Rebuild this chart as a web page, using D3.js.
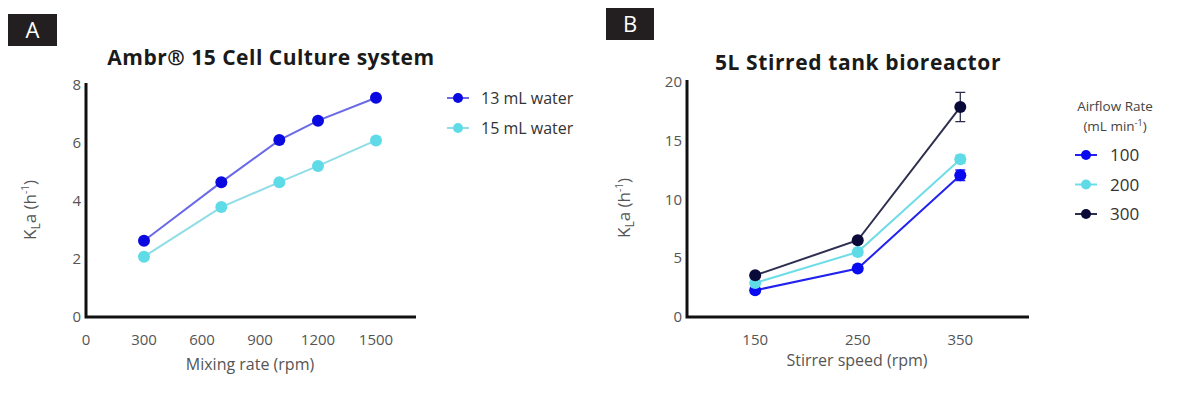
<!DOCTYPE html>
<html><head><meta charset="utf-8">
<script src="https://cdn.jsdelivr.net/npm/d3@7"></script>
<style>
body{margin:0;background:#fff;}
svg{display:block;font-family:"Open Sans", Lato, sans-serif;}
</style></head>
<body><svg id="c" width="1177" height="396"></svg>
<script>
// Panel A data
const mixingRate = [300, 700, 1000, 1200, 1500];
const water13 = [2.63, 4.65, 6.1, 6.77, 7.56];
const water15 = [2.08, 3.79, 4.65, 5.21, 6.09];
const aXTicks = [0, 300, 600, 900, 1200, 1500];
const aYTicks = [0, 2, 4, 6, 8];
const aSeriesNames = ["13 mL water", "15 mL water"];

// Panel B data
const stirrerSpeed = [150, 250, 350];
const air100 = [2.27, 4.12, 12.06];
const air200 = [2.9, 5.53, 13.42];
const air300 = [3.55, 6.53, 17.87];
const err100 = [0.1, 0.15, 0.45];
const err200 = [0.1, 0.15, 0.35];
const err300 = [0.1, 0.15, 1.25];
const bXTicks = [150, 250, 350];
const bYTicks = [0, 5, 10, 15, 20];
const bSeriesNames = ["100", "200", "300"];

const svg = d3.select("#c");
const tickColor = "#555";

function panelLabel(x, y, w, h, t) {
  svg.append("rect").attr("x", x).attr("y", y).attr("width", w).attr("height", h).attr("fill", "#231f20");
  svg.append("text").attr("x", x + w / 2).attr("y", y + h / 2 + 8).attr("text-anchor", "middle")
    .attr("fill", "#fff").attr("font-size", 22).text(t);
}

function yTitle(x, y) {
  const t = svg.append("text").attr("transform", `translate(${x},${y}) rotate(-90)`)
    .attr("text-anchor", "middle").attr("fill", tickColor).attr("font-size", 17);
  t.append("tspan").text("K");
  t.append("tspan").attr("font-size", 12).attr("dy", 4).text("L");
  t.append("tspan").attr("dy", -4).text("a (h");
  t.append("tspan").attr("font-size", 10).attr("dy", -7).text("-1");
  t.append("tspan").attr("dy", 7).text(")");
}

function drawAxes(x, y, xTicks, yTicks, x0, x1, y0, y1) {
  const g = svg.append("g");
  g.append("path").attr("d", `M${x0},${y1 - 2}V${y0}H${x1}`).attr("fill", "none")
    .attr("stroke", "#111").attr("stroke-width", 3);
  g.selectAll(".xt").data(xTicks).join("text").attr("x", d => x(d)).attr("y", y0 + 28)
    .attr("text-anchor", "middle").attr("fill", tickColor).attr("font-size", 15).text(d => d);
  g.selectAll(".yt").data(yTicks).join("text").attr("x", x0 - 5).attr("y", d => y(d) + 5)
    .attr("text-anchor", "end").attr("fill", tickColor).attr("font-size", 15).text(d => d);
}

// ---------- Panel A ----------
panelLabel(8, 14, 49, 32, "A");
const xA = d3.scaleLinear().domain([0, 1500]).range([86, 376]);
const yA = d3.scaleLinear().domain([0, 8]).range([317, 85]);
drawAxes(xA, yA, aXTicks, aYTicks, 86, 416, 317, 85);
svg.append("text").attr("x", 271).attr("y", 65).attr("text-anchor", "middle").attr("font-weight", "bold")
  .attr("font-size", 21).attr("letter-spacing", 0.5).attr("fill", "#1a1a1a").text("Ambr\u00AE 15 Cell Culture system");
svg.append("text").attr("x", 250).attr("y", 370).attr("text-anchor", "middle").attr("fill", tickColor)
  .attr("font-size", 16).text("Mixing rate (rpm)");
yTitle(36, 210);

const aSeries = [
  {name: aSeriesNames[0], vals: water13, line: "#6a6ae8", dot: "#0a0ae0"},
  {name: aSeriesNames[1], vals: water15, line: "#8fdde6", dot: "#5fdbe8"}
];
const lineA = d3.line().x((d, i) => xA(mixingRate[i])).y(d => yA(d));
aSeries.forEach((s, k) => {
  svg.append("path").datum(s.vals).attr("d", lineA).attr("fill", "none").attr("stroke", s.line).attr("stroke-width", 2);
  svg.append("g").selectAll("circle").data(s.vals).join("circle")
    .attr("cx", (d, i) => xA(mixingRate[i])).attr("cy", d => yA(d)).attr("r", 6).attr("fill", s.dot);
  const ly = 98 + k * 30;
  svg.append("line").attr("x1", 447).attr("x2", 469).attr("y1", ly).attr("y2", ly).attr("stroke", s.line).attr("stroke-width", 2);
  svg.append("circle").attr("cx", 458).attr("cy", ly).attr("r", 5).attr("fill", s.dot);
  svg.append("text").attr("x", 481).attr("y", ly + 6).attr("fill", "#333").attr("font-size", 16).text(s.name);
});

// ---------- Panel B ----------
panelLabel(606, 8, 48, 32, "B");
const xB = d3.scaleLinear().domain([83.5, 417]).range([687, 1029]);
const yB = d3.scaleLinear().domain([0, 20]).range([317, 82]);
drawAxes(xB, yB, bXTicks, bYTicks, 687, 1029, 317, 82);
svg.append("text").attr("x", 858).attr("y", 70).attr("text-anchor", "middle").attr("font-weight", "bold")
  .attr("font-size", 21).attr("letter-spacing", 0.6).attr("fill", "#1a1a1a").text("5L Stirred tank bioreactor");
svg.append("text").attr("x", 857).attr("y", 366).attr("text-anchor", "middle").attr("fill", tickColor)
  .attr("font-size", 16).text("Stirrer speed (rpm)");
yTitle(630, 208);

const bSeries = [
  {name: bSeriesNames[0], vals: air100, err: err100, line: "#2222ee", dot: "#0a0af0"},
  {name: bSeriesNames[1], vals: air200, err: err200, line: "#6fdde8", dot: "#5fdbe8"},
  {name: bSeriesNames[2], vals: air300, err: err300, line: "#2e2e50", dot: "#0a0a38"}
];
const lineB = d3.line().x((d, i) => xB(stirrerSpeed[i])).y(d => yB(d));
bSeries.forEach(s => {
  svg.append("path").datum(s.vals).attr("d", lineB).attr("fill", "none").attr("stroke", s.line).attr("stroke-width", 2);
});
bSeries.forEach((s, k) => {
  const g = svg.append("g");
  g.selectAll("path.err").data(s.vals).join("path").attr("fill", "none").attr("stroke", s.line).attr("stroke-width", 1.3)
    .attr("d", (d, i) => {
      const cx = xB(stirrerSpeed[i]), t = yB(d + s.err[i]), b = yB(d - s.err[i]);
      return `M${cx - 5},${t}H${cx + 5}M${cx},${t}V${b}M${cx - 5},${b}H${cx + 5}`;
    });
  g.selectAll("circle").data(s.vals).join("circle")
    .attr("cx", (d, i) => xB(stirrerSpeed[i])).attr("cy", d => yB(d)).attr("r", 6).attr("fill", s.dot);
  const ly = 155 + k * 29.5;
  svg.append("line").attr("x1", 1075).attr("x2", 1097).attr("y1", ly).attr("y2", ly).attr("stroke", s.line).attr("stroke-width", 2);
  svg.append("circle").attr("cx", 1086).attr("cy", ly).attr("r", 5).attr("fill", s.dot);
  svg.append("text").attr("x", 1110).attr("y", ly + 6).attr("fill", "#333").attr("font-size", 17).text(s.name);
});
svg.append("text").attr("x", 1115).attr("y", 111).attr("text-anchor", "middle").attr("fill", "#444")
  .attr("font-size", 13.5).text("Airflow Rate");
const lt = svg.append("text").attr("x", 1115).attr("y", 131).attr("text-anchor", "middle").attr("fill", "#444").attr("font-size", 13.5);
lt.append("tspan").text("(mL min");
lt.append("tspan").attr("font-size", 9).attr("dy", -5).text("-1");
lt.append("tspan").attr("dy", 5).text(")");
</script></body></html>
